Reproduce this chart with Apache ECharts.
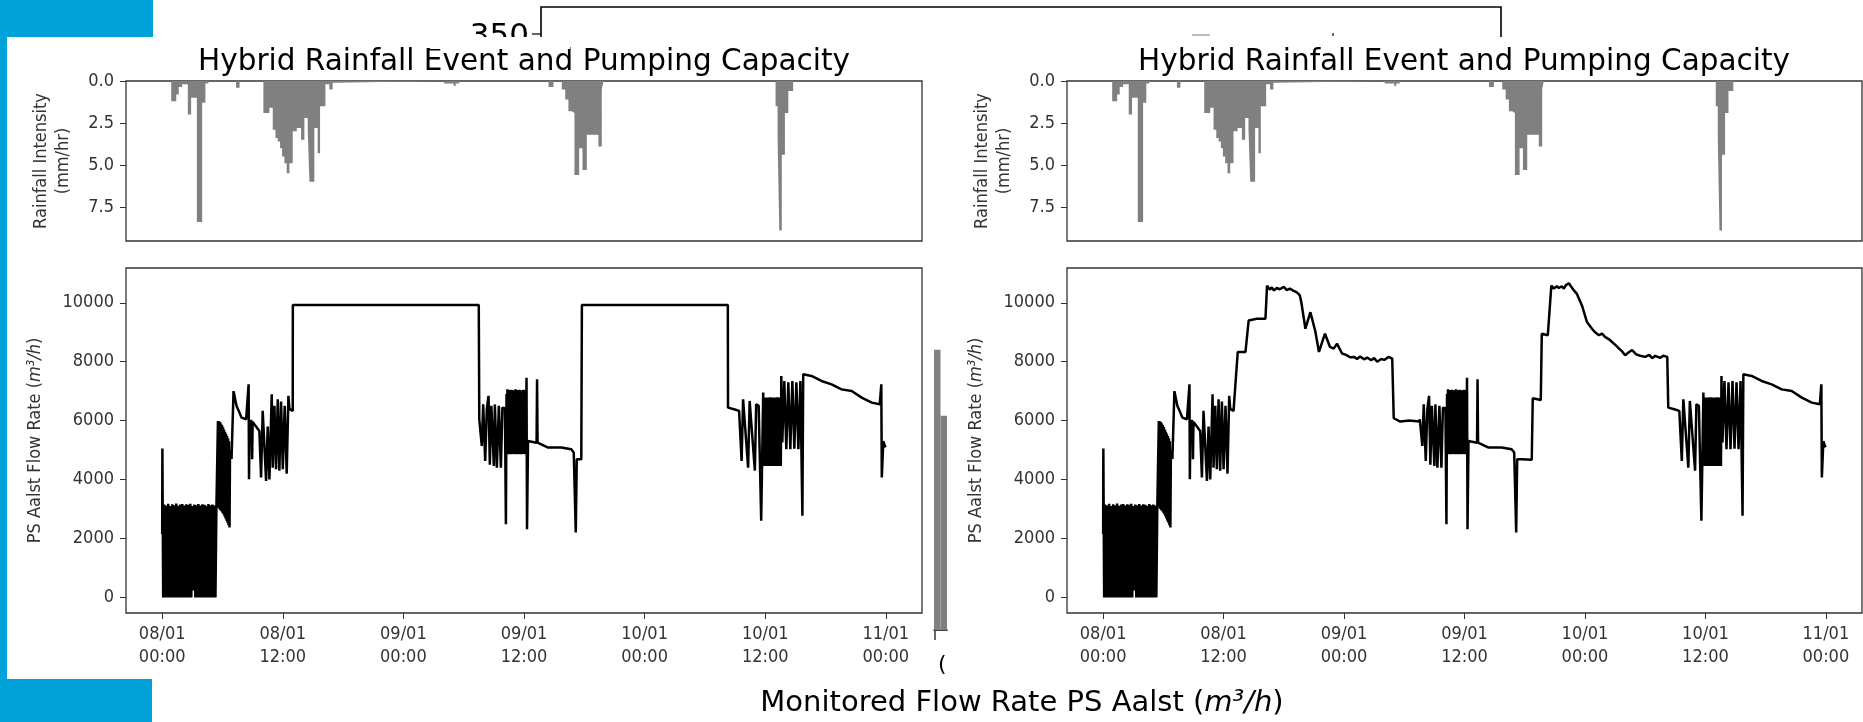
<!DOCTYPE html>
<html>
<head>
<meta charset="utf-8">
<script src="https://cdn.jsdelivr.net/npm/echarts@6.0.0/dist/echarts.min.js"></script>
<style>
  html, body { margin: 0; padding: 0; background: #fff; }
  #chart { width: 1863px; height: 722px; }
</style>
</head>
<body>
<div id="chart"></div>
<script>
// time in hours since 08/01 00:00
var xTickHours = [0, 12, 24, 36, 48, 60, 72];
var xTickLabels = ['08/01\n00:00', '08/01\n12:00', '09/01\n00:00', '09/01\n12:00', '10/01\n00:00', '10/01\n12:00', '11/01\n00:00'];
var rainTicks = [0, 2.5, 5, 7.5];
var flowTicks = [0, 2000, 4000, 6000, 8000, 10000];

// rainfall intensity (mm/hr), [hour, value] held until the next hour
var rainSteps = [
  [0, 0], [0.9, 1.2], [1.4, 0.8], [1.65, 0.35], [1.98, 0.2], [2.55, 2.0], [2.88, 1.0], [3.45, 8.4], [3.98, 1.3], [4.3, 0.15], [4.6, 0],
  [7.35, 0.4], [7.7, 0],
  [10.07, 1.9], [10.67, 1.6], [11.0, 2.9], [11.27, 3.4], [11.5, 3.6], [11.73, 4.0], [11.93, 4.5], [12.16, 4.9], [12.39, 5.5],
  [12.66, 4.9], [12.99, 3.0], [13.39, 2.8], [13.82, 3.5], [14.15, 2.2], [14.48, 2.9], [14.65, 6.0], [15.14, 2.8], [15.47, 4.3],
  [15.71, 1.5], [16.24, 0.2], [16.63, 0.5], [16.96, 0.1], [17.23, 0],
  [28.05, 0.15], [29.0, 0.3], [29.2, 0.15], [29.55, 0],
  [38.44, 0.35], [38.93, 0],
  [39.76, 0.5], [40.1, 1.1], [40.42, 1.8], [40.76, 1.9], [41.02, 5.6], [41.49, 4.0], [41.82, 5.3], [42.25, 3.2], [43.4, 3.9], [43.74, 0.5], [43.9, 0],
  [61.03, 1.5], [61.23, 3.4], [61.4, 8.9], [61.65, 4.4], [61.96, 1.9], [62.3, 0.6], [62.78, 0],
  [72, 0]
];

// flow rate (m3/h), [hour, value] -- parts shared by both panels
var flowStart = [
  [0, 2150], [0.02, 5050], [0.05, 3100],
  [0.1, 0], [0.2, 3150], [0.3, 0], [0.4, 3120], [0.5, 0], [0.6, 3180], [0.7, 0], [0.8, 3100], [0.9, 0], [1.0, 3160],
  [1.1, 0], [1.2, 3130], [1.3, 0], [1.4, 3190], [1.5, 0], [1.6, 3110], [1.7, 0], [1.8, 3150], [1.9, 0], [2.0, 3170],
  [2.1, 0], [2.2, 3120], [2.3, 0], [2.4, 3160], [2.5, 0], [2.6, 3140], [2.7, 0], [2.8, 3180], [2.9, 0], [3.0, 3100],
  [3.1, 230], [3.2, 3150], [3.3, 0], [3.4, 3130], [3.5, 0], [3.6, 3170], [3.7, 0], [3.8, 3120], [3.9, 0], [4.0, 3160],
  [4.1, 0], [4.2, 3140], [4.3, 0], [4.4, 3110], [4.5, 0], [4.6, 3170], [4.7, 0], [4.8, 3130], [4.9, 0], [5.0, 3150],
  [5.1, 0], [5.2, 3120], [5.3, 0], [5.4, 3160], [5.5, 3100],
  [5.55, 5990], [5.6, 3050], [5.65, 5980], [5.7, 3000], [5.75, 5950], [5.8, 2960], [5.85, 5900], [5.9, 2920], [5.95, 5850],
  [6.0, 2870], [6.05, 5780], [6.1, 2820], [6.15, 5700], [6.2, 2750], [6.25, 5620], [6.3, 2680], [6.35, 5550], [6.4, 2600],
  [6.45, 5480], [6.5, 2530], [6.55, 5400], [6.6, 2450], [6.65, 5300], [6.7, 2370], [6.75, 5000],
  [6.9, 4700], [7.02, 4690], [7.1, 7000], [7.4, 6500], [7.62, 6330],
  [7.9, 6100], [8.35, 6045], [8.6, 7230], [8.64, 4010], [8.7, 6000], [8.9, 5990], [8.95, 4690], [9.0, 5950], [9.34, 5800],
  [9.67, 5650], [9.84, 4070], [10.0, 6330], [10.34, 3955], [10.5, 5800], [10.67, 4000], [10.9, 6893], [11.0, 4400],
  [11.17, 6500], [11.33, 4350], [11.5, 6720], [11.66, 4300], [11.83, 6650], [12.0, 4350], [12.19, 6500], [12.39, 4200],
  [12.56, 6840], [12.66, 6400], [12.99, 6330]
];
var flowMid = [
  [31.55, 6045], [31.7, 6100], [31.8, 5140], [31.94, 6550], [32.14, 4630], [32.3, 6400], [32.47, 6840], [32.6, 4500],
  [32.75, 6500], [33.0, 4460], [33.1, 6550], [33.3, 4400], [33.5, 6500], [33.7, 4400], [33.85, 6440], [34.1, 6420],
  [34.2, 2486], [34.26, 6900], [34.3, 4860], [34.35, 7060], [34.4, 4900], [34.45, 7000], [34.5, 4860], [34.55, 7040],
  [34.6, 4880], [34.65, 6980], [34.7, 4860], [34.75, 7050], [34.8, 4900], [34.85, 7000], [34.9, 4870], [34.95, 7030],
  [35.0, 4880], [35.05, 7000], [35.1, 4860], [35.15, 7060], [35.2, 4900], [35.25, 7010], [35.3, 4870], [35.35, 7040],
  [35.4, 4860], [35.45, 6990], [35.5, 4890], [35.55, 7050], [35.6, 4870], [35.65, 7000], [35.7, 4860], [35.75, 7030],
  [35.8, 4900], [35.85, 7010], [35.9, 4870], [35.95, 7050], [36.0, 4880], [36.05, 7000], [36.1, 4860], [36.15, 7040],
  [36.2, 4900], [36.25, 7458], [36.3, 2316], [36.4, 5311],
  [37.25, 5250], [37.3, 7400], [37.35, 5250], [37.45, 5198], [38.4, 5085], [39.7, 5085], [40.7, 5028], [40.95, 4915],
  [41.15, 2203], [41.25, 4690], [41.7, 4690]
];
var flowEnd = [
  [56.3, 6440], [56.9, 6385], [57.4, 6330], [57.65, 4630], [57.8, 6720], [58.3, 4400], [58.45, 6667], [58.97, 4300],
  [59.1, 6555], [59.35, 6500], [59.6, 2600], [59.8, 6950], [59.85, 4460], [59.9, 6780], [59.95, 4470], [60.0, 6780],
  [60.05, 4460], [60.1, 6770], [60.15, 4480], [60.2, 6780], [60.25, 4460], [60.3, 6760], [60.35, 4470], [60.4, 6780],
  [60.45, 4460], [60.5, 6790], [60.55, 4470], [60.6, 6780], [60.65, 4460], [60.7, 6770], [60.75, 4480], [60.8, 6780],
  [60.85, 4460], [60.9, 6780], [60.95, 4470], [61.0, 6760], [61.05, 4460], [61.1, 6780], [61.15, 4470], [61.2, 6790],
  [61.25, 4460], [61.3, 6780], [61.35, 4470], [61.4, 6780], [61.45, 4460], [61.5, 6770], [61.55, 4460],
  [61.6, 7515], [61.7, 5255], [61.9, 7345],
  [62.1, 5028], [62.3, 7300], [62.5, 5028], [62.7, 7345], [62.9, 5050], [63.1, 7300], [63.3, 5028], [63.5, 7345],
  [63.6, 5028], [63.7, 2770], [63.78, 7571], [64.6, 7515], [65.6, 7345], [66.6, 7232], [67.6, 7060], [68.6, 7006],
  [69.6, 6780], [70.6, 6610], [71.4, 6555], [71.55, 7232], [71.6, 4070], [71.75, 5300], [71.9, 5141], [72.0, 5100]
];
// pumping capacity capped (left) vs. unconstrained (right)
var leftPeak1 = [[13.0, 9920], [31.5, 9920]];
var leftPeak2 = [[41.76, 9920], [56.28, 9920]];
var rightPeak1 = [
  [13.18, 6330], [13.41, 8330], [14.18, 8330], [14.5, 9400], [15.3, 9460], [16.17, 9460], [16.33, 10580], [16.6, 10450],
  [16.8, 10520], [17.0, 10420], [17.3, 10500], [17.6, 10460], [18.0, 10540], [18.3, 10430], [18.6, 10480], [19.0, 10400],
  [19.3, 10350], [19.6, 10250], [19.75, 10000], [20.15, 9120], [20.65, 9680], [21.15, 9010], [21.5, 8330],
  [22.1, 8950], [22.6, 8500], [22.97, 8445], [23.3, 8614], [23.8, 8276], [24.2, 8230], [24.6, 8150], [25.0, 8163],
  [25.3, 8090], [25.6, 8180], [26.0, 8080], [26.3, 8140], [26.7, 8050], [27.0, 8120], [27.3, 8000], [27.7, 8090],
  [28.0, 8060], [28.45, 8163], [28.8, 8107], [28.95, 6080], [29.6, 5968], [30.5, 6000], [31.5, 5968]
];
var rightPeak2 = [
  [42.7, 4670], [42.8, 6756], [43.6, 6700], [43.7, 8950], [44.3, 8900], [44.65, 10580], [44.9, 10480], [45.2, 10560],
  [45.4, 10500], [45.7, 10560], [45.9, 10480], [46.1, 10600], [46.4, 10660], [46.6, 10560], [46.9, 10420], [47.2, 10300],
  [47.7, 9910], [48.2, 9345], [48.7, 9120], [49.0, 9000], [49.4, 8900], [49.7, 8950], [50.0, 8840], [50.4, 8760],
  [50.7, 8670], [51.0, 8580], [51.4, 8445], [51.7, 8350], [52.0, 8220], [52.4, 8330], [52.7, 8390], [53.1, 8250],
  [53.5, 8200], [54.0, 8163], [54.4, 8230], [54.7, 8120], [55.0, 8200], [55.5, 8130], [55.8, 8200], [56.2, 8163]
];
var leftFlow = flowStart.concat(leftPeak1, flowMid, leftPeak2, flowEnd);
var rightFlow = flowStart.concat(rightPeak1, flowMid, rightPeak2, flowEnd);

// bars of the figure behind
var backdropBars = [96.6, 73.9];

var titleText = 'Hybrid Rainfall Event and Pumping Capacity';
var FONT = 'DejaVu Sans';
var NARROW = "'DejaVu Sans Condensed', 'DejaVu Sans'";
var INK = '#333';

var chart = echarts.init(document.getElementById('chart'), null, { renderer: 'canvas' });

function timeAxis(gi, labels) {
  return {
    gridIndex: gi, type: 'value', min: -3.6, max: 75.6, position: 'bottom',
    axisLine: { show: false, onZero: false },
    splitLine: { show: false },
    axisTick: { show: labels, customValues: xTickHours, length: 6, lineStyle: { color: INK, width: 1 } },
    axisLabel: {
      show: labels, customValues: xTickHours, color: INK, fontFamily: NARROW, fontSize: 18, lineHeight: 23, margin: 10,
      formatter: function (v) { return xTickLabels[xTickHours.indexOf(v)]; }
    }
  };
}
function rainAxis(gi) {
  return {
    gridIndex: gi, type: 'value', inverse: true, min: 0, max: 9.53,
    axisLine: { show: false, onZero: false }, splitLine: { show: false },
    axisTick: { show: true, customValues: rainTicks, length: 6, lineStyle: { color: INK } },
    axisLabel: { customValues: rainTicks, color: INK, fontFamily: NARROW, fontSize: 18, margin: 12,
      formatter: function (v) { return v.toFixed(1); } },
    name: 'Rainfall Intensity\n(mm/hr)', nameLocation: 'middle', nameGap: 52, nameRotate: 90,
    nameTextStyle: { color: INK, fontFamily: NARROW, fontSize: 18, lineHeight: 22 }
  };
}
function flowAxis(gi) {
  return {
    gridIndex: gi, type: 'value', min: -530, max: 11180,
    axisLine: { show: false, onZero: false }, splitLine: { show: false },
    axisTick: { show: true, customValues: flowTicks, length: 6, lineStyle: { color: INK } },
    axisLabel: { customValues: flowTicks, color: INK, fontFamily: NARROW, fontSize: 18, margin: 12,
      formatter: function (v) { return String(v); } },
    name: 'PS Aalst Flow Rate ({i|m³/h})', nameLocation: 'middle', nameGap: 82, nameRotate: 90,
    nameTextStyle: { color: INK, fontFamily: NARROW, fontSize: 18,
      rich: { i: { fontStyle: 'italic', fontFamily: NARROW, fontSize: 18, color: INK } } }
  };
}
function gridBox(left, top, width, height) {
  return { left: left, top: top, width: width, height: height, show: true, borderColor: '#333', borderWidth: 1.3, backgroundColor: '#fff' };
}
function rainSeries(i) {
  return {
    type: 'line', xAxisIndex: i, yAxisIndex: i, data: rainSteps, step: 'end', showSymbol: false, silent: true,
    lineStyle: { width: 0 }, areaStyle: { color: '#808080', opacity: 1 }
  };
}
function flowSeries(i, data) {
  return {
    type: 'line', xAxisIndex: i, yAxisIndex: i, data: data, showSymbol: false, silent: true,
    lineStyle: { color: '#000', width: 2.5 }
  };
}
function txt(x, y, text, size, align, extra) {
  var st = { text: text, fill: '#000', fontFamily: FONT, fontSize: size,
    align: align, textAlign: align, verticalAlign: 'middle', textVerticalAlign: 'middle' };
  if (extra) { for (var k in extra) st[k] = extra[k]; }
  return { type: 'text', x: x, y: y, z: 10, style: st };
}

var BLUE = '#00a3d9';
var option = {
  animation: false,
  backgroundColor: '#fff',
  graphic: [
    { type: 'rect', shape: { x: 0, y: 0, width: 153, height: 37 }, style: { fill: BLUE }, z: 1 },
    { type: 'rect', shape: { x: 0, y: 37, width: 7, height: 645 }, style: { fill: BLUE }, z: 1 },
    { type: 'rect', shape: { x: 0, y: 679, width: 152, height: 43 }, style: { fill: BLUE }, z: 1 },
    // figure behind: frame, tick label, artifacts
    { type: 'polyline', shape: { points: [[541, 37], [541, 7], [1501, 7], [1501, 37]] }, style: { stroke: '#000', lineWidth: 1.6, fill: null }, z: 1 },
    { type: 'line', shape: { x1: 532, y1: 34, x2: 541, y2: 34 }, style: { stroke: '#000', lineWidth: 1.2 }, z: 1 },
    txt(529, 37, '350', 31, 'right'),
    { type: 'rect', shape: { x: 430, y: 37, width: 140, height: 12 }, style: { fill: '#fff' }, z: 11 },
    { type: 'rect', shape: { x: 1192, y: 34, width: 18, height: 2 }, style: { fill: '#bbb' }, z: 1 },
    { type: 'rect', shape: { x: 1332, y: 33, width: 2, height: 3 }, style: { fill: '#666' }, z: 1 },
    { type: 'line', shape: { x1: 935, y1: 631, x2: 935, y2: 640 }, style: { stroke: '#000', lineWidth: 1.2 }, z: 1 },
    txt(938, 665, '(', 22, 'left'),
    // titles
    txt(524, 62, titleText, 29.5, 'center'),
    txt(1464, 62, titleText, 29.5, 'center'),
    txt(1022, 703, 'Monitored Flow Rate PS Aalst ({i|m³/h})', 29, 'center', {
      rich: { i: { fontStyle: 'italic', fontFamily: FONT, fontSize: 29, fill: '#000' } }
    })
  ],
  grid: [
    gridBox(126, 81, 796, 160),
    gridBox(126, 268, 796, 345),
    gridBox(1067, 81, 795, 160),
    gridBox(1067, 268, 795, 345),
    { left: 934, top: 340, width: 13, height: 290, show: false }
  ],
  xAxis: [
    timeAxis(0, false), timeAxis(1, true), timeAxis(2, false), timeAxis(3, true),
    { gridIndex: 4, type: 'category', data: ['', ''], axisLine: { show: true, lineStyle: { color: '#000', width: 1.5 } },
      axisTick: { show: false }, axisLabel: { show: false } }
  ],
  yAxis: [
    rainAxis(0), flowAxis(1), rainAxis(2), flowAxis(3),
    { gridIndex: 4, type: 'value', min: 0, max: 100, show: false }
  ],
  series: [
    rainSeries(0), flowSeries(1, leftFlow), rainSeries(2), flowSeries(3, rightFlow),
    { type: 'bar', xAxisIndex: 4, yAxisIndex: 4, data: backdropBars, barCategoryGap: '0%', silent: true,
      itemStyle: { color: '#808080' } }
  ]
};

chart.setOption(option);
window.addEventListener('resize', chart.resize);
</script>
</body>
</html>
